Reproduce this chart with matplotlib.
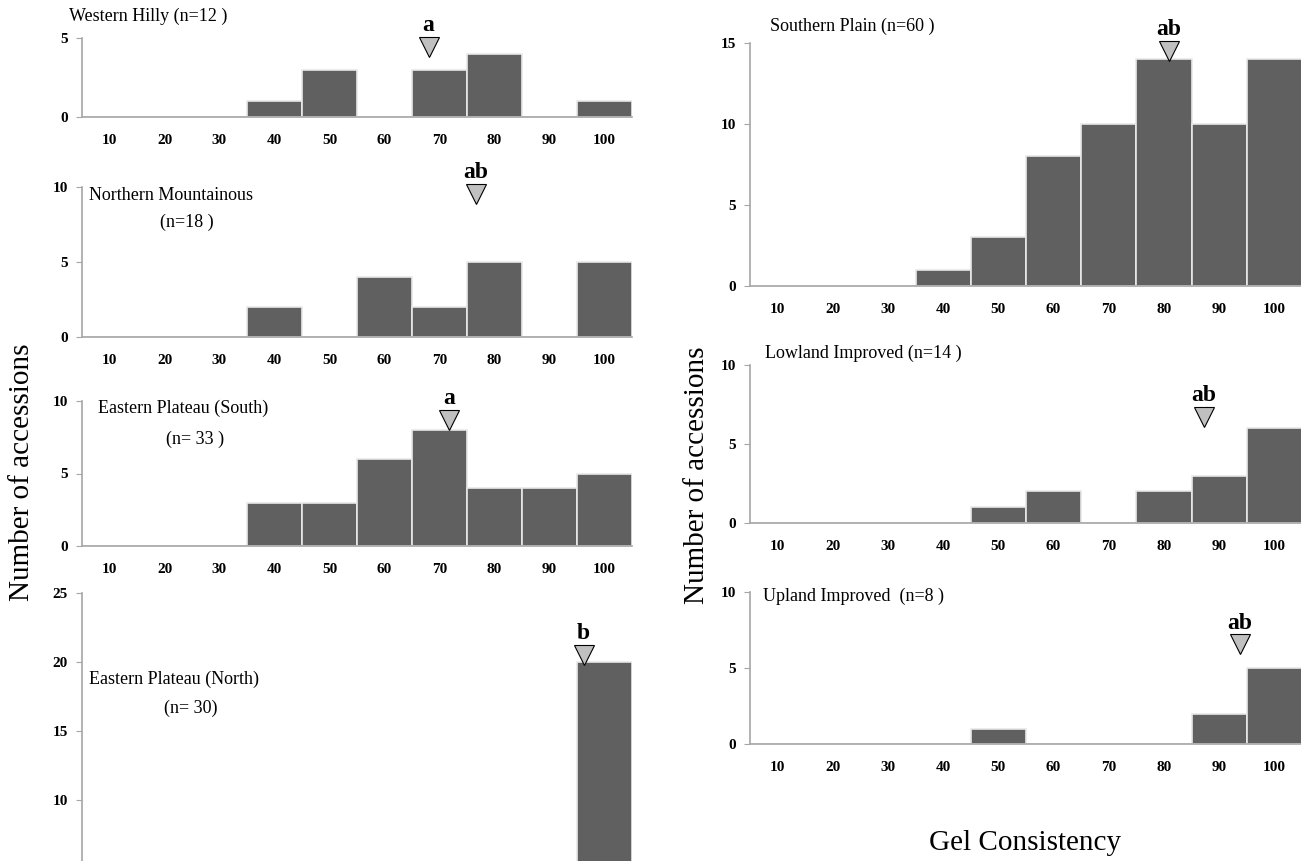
import matplotlib
matplotlib.use('Agg')
import matplotlib.pyplot as plt

plt.rcParams['font.family'] = ['Liberation Serif', 'DejaVu Serif']

W, H = 1301, 861

bins = [10, 20, 30, 40, 50, 60, 70, 80, 90, 100]

western_hilly = [0, 0, 0, 1, 3, 0, 3, 4, 0, 1]
northern_mount = [0, 0, 0, 2, 0, 4, 2, 5, 0, 5]
eastern_south = [0, 0, 0, 3, 3, 6, 8, 4, 4, 5]
eastern_north = [0, 0, 0, 0, 0, 0, 0, 0, 0, 20]   # lower bars are cut off in the source
southern_plain = [0, 0, 0, 1, 3, 8, 10, 14, 10, 14]
lowland_improved = [0, 0, 0, 0, 1, 2, 0, 2, 3, 6]
upland_improved = [0, 0, 0, 0, 1, 0, 0, 0, 2, 5]

# mean position (triangle) and group letter
means = [68, 76.6, 71.8, 96.2, 80.9, 87.2, 93.7]
tips = [3.8, 8.9, 8.0, 19.8, 13.9, 6.1, 5.9]
letters = ['a', 'ab', 'a', 'b', 'ab', 'ab', 'ab']

BAR = '#606060'
SPINE = '#a6a6a6'


def make_ax(left, right, ytop, y0, ymax, yticks):
    # pixel box -> figure fraction
    ax = fig.add_axes([left / W, 1 - y0 / H, (right - left) / W, (y0 - ytop) / H])
    ax.set_xlim(5, 105)
    ax.set_ylim(0, ymax)
    for s in ['top', 'right']:
        ax.spines[s].set_visible(False)
    for s in ['left', 'bottom']:
        ax.spines[s].set_color(SPINE)
        ax.spines[s].set_linewidth(1.2)
    ax.set_xticks(bins)
    ax.set_xticklabels([str(b) for b in bins], fontweight='bold', fontsize=11)
    ax.set_yticks(yticks)
    ax.set_yticklabels([str(t) for t in yticks], fontweight='bold', fontsize=11)
    ax.tick_params(axis='x', length=0, pad=12)
    ax.tick_params(axis='y', length=4, color=SPINE, pad=6)
    ax.patch.set_alpha(0)
    return ax


def draw(ax, counts, mean, tip, letter, ymax, ppu):
    ax.bar(bins, counts, width=10, color=BAR, edgecolor='#e8e8e8', linewidth=1.2)
    # triangle of ~20 px, tip at `tip`
    half = 10 / ppu
    ax.plot([mean], [tip + half], marker='v', markersize=14.5, markerfacecolor='#c0c0c0',
            markeredgecolor='black', markeredgewidth=0.8, clip_on=False, zorder=5)
    ax.text(mean, tip + 2 * half + 11 / ppu, letter, ha='center', va='center',
            fontsize=17, fontweight='bold', clip_on=False)


fig = plt.figure(figsize=(W / 100, H / 100), dpi=100)

L0, L1 = 82, 632
R0, R1 = 750, 1302

ax1 = make_ax(L0, L1, 38, 117, 5, [0, 5])
draw(ax1, western_hilly, means[0], tips[0], letters[0], 5, 79 / 5)
ax2 = make_ax(L0, L1, 187, 337, 10, [0, 5, 10])
draw(ax2, northern_mount, means[1], tips[1], letters[1], 10, 150 / 10)
ax3 = make_ax(L0, L1, 401, 546, 10, [0, 5, 10])
draw(ax3, eastern_south, means[2], tips[2], letters[2], 10, 145 / 10)
# this panel runs past the bottom of the page, only 10-25 are visible
ax4 = make_ax(L0, L1, 593, 938, 25, [10, 15, 20, 25])
draw(ax4, eastern_north, means[3], tips[3], letters[3], 25, 345 / 25)
ax4.tick_params(axis='x', labelbottom=False)

ax5 = make_ax(R0, R1, 43, 286, 15, [0, 5, 10, 15])
draw(ax5, southern_plain, means[4], tips[4], letters[4], 15, 243 / 15)
ax6 = make_ax(R0, R1, 365, 523, 10, [0, 5, 10])
draw(ax6, lowland_improved, means[5], tips[5], letters[5], 10, 158 / 10)
ax7 = make_ax(R0, R1, 592, 744, 10, [0, 5, 10])
draw(ax7, upland_improved, means[6], tips[6], letters[6], 10, 152 / 10)


def ftext(x, y, s, **kw):
    fig.text(x / W, 1 - y / H, s, **kw)


tk = dict(fontsize=13, va='center', ha='left')
ftext(69, 16, 'Western Hilly (n=12 )', **tk)
ftext(89, 195, 'Northern Mountainous', **tk)
ftext(160, 222, '(n=18 )', **tk)
ftext(98, 408, 'Eastern Plateau (South)', **tk)
ftext(166, 439, '(n= 33 )', **tk)
ftext(89, 679, 'Eastern Plateau (North)', **tk)
ftext(164, 708, '(n= 30)', **tk)
ftext(770, 26, 'Southern Plain (n=60 )', **tk)
ftext(765, 353, 'Lowland Improved (n=14 )', **tk)
ftext(763, 596, 'Upland Improved  (n=8 )', **tk)

ftext(22, 472, 'Number of accessions', fontsize=21, rotation=90, ha='center', va='center')
ftext(697, 475, 'Number of accessions', fontsize=21, rotation=90, ha='center', va='center')
ftext(1025, 843, 'Gel Consistency', fontsize=21, ha='center', va='center')

fig.savefig('out.png', dpi=100)
